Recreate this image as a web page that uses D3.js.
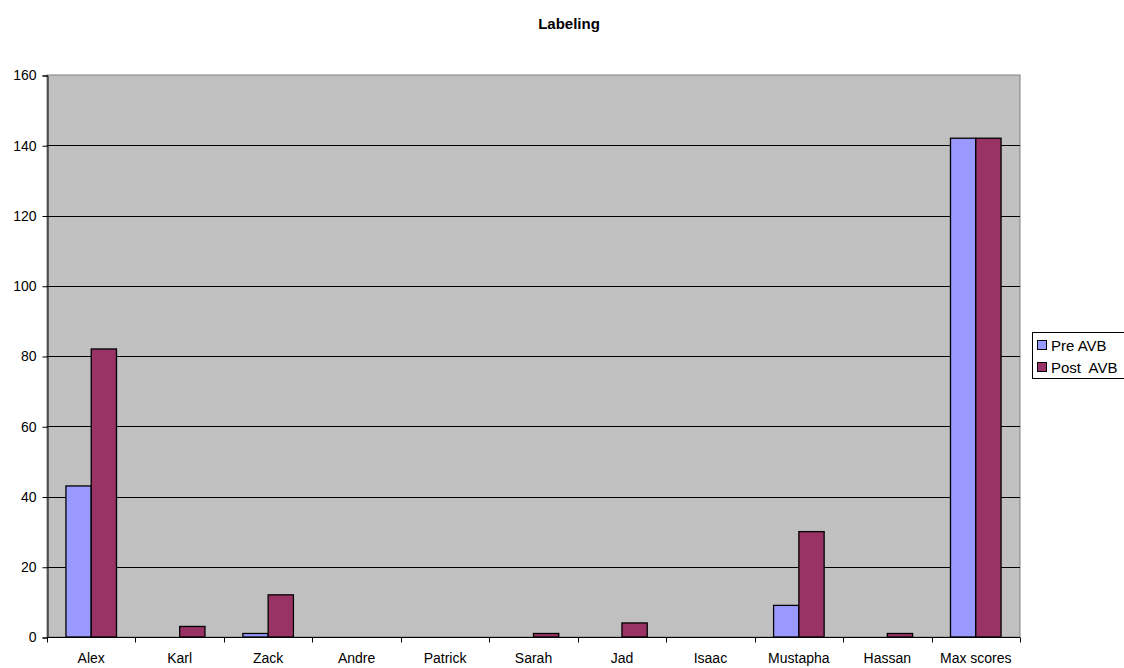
<!DOCTYPE html>
<html>
<head>
<meta charset="utf-8">
<script src="https://cdn.jsdelivr.net/npm/d3@7"></script>
<style>
  html, body { margin: 0; padding: 0; background: #fff; }
  svg { display: block; font-family: "Liberation Sans", Arial, sans-serif; }
</style>
</head>
<body>
<svg id="chart" width="1124" height="668"></svg>
<script>
// Chart data
const categories = ["Alex", "Karl", "Zack", "Andre", "Patrick", "Sarah", "Jad", "Isaac", "Mustapha", "Hassan", "Max scores"];
const seriesNames = ["Pre AVB", "Post  AVB"];
const preAVB  = [43, 0, 1, 0, 0, 0, 0, 0, 9, 0, 142];
const postAVB = [82, 3, 12, 0, 0, 1, 4, 0, 30, 1, 142];
const yTicks = [0, 20, 40, 60, 80, 100, 120, 140, 160];
const colors = ["#9999FF", "#993366"];

const svg = d3.select("#chart");
const plot = { left: 47, top: 75, right: 1020, bottom: 637 };

const x = d3.scaleBand()
  .domain(categories)
  .range([plot.left, plot.right])
  .paddingInner(0.6 / 1.4)
  .paddingOuter(0.3 / 1.4);

const xs = d3.scaleBand().domain(seriesNames).range([0, x.bandwidth()]);

const y = d3.scaleLinear().domain([0, 160]).range([plot.bottom, plot.top]);

// Plot background
svg.append("rect")
  .attr("x", plot.left).attr("y", plot.top)
  .attr("width", plot.right - plot.left).attr("height", plot.bottom - plot.top)
  .attr("fill", "#C0C0C0")
  .attr("stroke", "#808080").attr("stroke-width", 1);

// Gridlines
svg.append("g")
  .selectAll("line")
  .data(yTicks.filter(d => d > 0 && d < 160))
  .join("line")
  .attr("x1", plot.left).attr("x2", plot.right)
  .attr("y1", d => Math.round(y(d)) + 0.5).attr("y2", d => Math.round(y(d)) + 0.5)
  .attr("stroke", "#000").attr("stroke-width", 1);

// Bars
const rows = categories.map((c, i) => ({ cat: c, vals: [preAVB[i], postAVB[i]] }));
const groups = svg.append("g").selectAll("g")
  .data(rows)
  .join("g")
  .attr("transform", d => `translate(${x(d.cat)},0)`);

groups.selectAll("rect")
  .data(d => d.vals.map((v, k) => ({ v, k })).filter(e => e.v > 0))
  .join("rect")
  .attr("x", e => xs(seriesNames[e.k]))
  .attr("y", e => y(e.v))
  .attr("width", xs.bandwidth())
  .attr("height", e => y(0) - y(e.v))
  .attr("fill", e => colors[e.k])
  .attr("stroke", "#000").attr("stroke-width", 1.3);

// Y axis
const yAxis = d3.axisLeft(y).tickValues(yTicks).tickSize(5).tickPadding(6);
const gy = svg.append("g").attr("transform", `translate(${plot.left + 0.5},0.5)`).call(yAxis);
gy.select(".domain").attr("stroke", "#000");
gy.selectAll(".tick line").attr("stroke", "#000");
gy.selectAll("text").attr("font-size", 14).attr("fill", "#000")
  .attr("font-family", "Liberation Sans, Arial, sans-serif");

// X axis with ticks at category boundaries
const gx = svg.append("g").attr("transform", `translate(0,${plot.bottom + 0.5})`);
gx.append("line")
  .attr("x1", plot.left).attr("x2", plot.right)
  .attr("stroke", "#000");
const step = x.step();
const boundaries = d3.range(categories.length + 1).map(i => plot.left + i * step);
gx.selectAll("line.tk")
  .data(boundaries)
  .join("line").attr("class", "tk")
  .attr("x1", d => Math.round(d) + 0.5).attr("x2", d => Math.round(d) + 0.5)
  .attr("y1", 0).attr("y2", 5)
  .attr("stroke", "#000");
gx.selectAll("text")
  .data(categories)
  .join("text")
  .attr("x", d => x(d) + x.bandwidth() / 2)
  .attr("y", 25)
  .attr("text-anchor", "middle")
  .attr("font-size", 14)
  .attr("fill", "#000")
  .text(d => d);

// Title
svg.append("text")
  .attr("x", 569).attr("y", 29)
  .attr("text-anchor", "middle")
  .attr("font-size", 15).attr("font-weight", "bold")
  .text("Labeling");

// Legend
const lg = svg.append("g").attr("transform", "translate(1032,332)");
lg.append("rect")
  .attr("x", 0.5).attr("y", 0.5).attr("width", 100).attr("height", 46)
  .attr("fill", "#fff").attr("stroke", "#000").attr("stroke-width", 1);
seriesNames.forEach((name, k) => {
  const cy = 13 + k * 22;
  lg.append("rect")
    .attr("x", 5.5).attr("y", cy - 4.5).attr("width", 9).attr("height", 9)
    .attr("fill", colors[k]).attr("stroke", "#000").attr("stroke-width", 1);
  lg.append("text")
    .attr("x", 19).attr("y", cy + 5.5)
    .attr("font-size", 15).attr("fill", "#000")
    .style("white-space", "pre")
    .text(name);
});
</script>
</body>
</html>
